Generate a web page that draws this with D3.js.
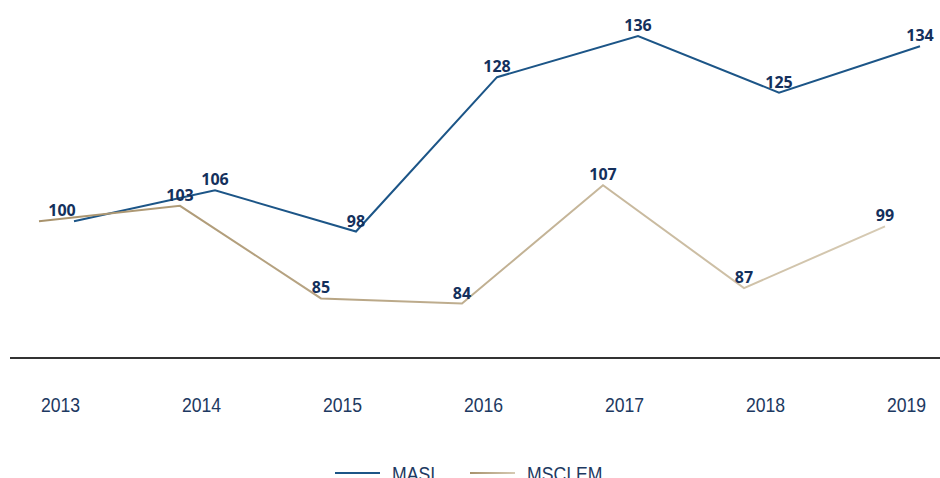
<!DOCTYPE html>
<html>
<head>
<meta charset="utf-8">
<script src="https://cdn.jsdelivr.net/npm/d3@7"></script>
<style>
  body { margin: 0; background: #fff; }
  svg { display: block; }
  .year, .legend-text { font-family: "Liberation Sans", Arial, sans-serif; font-size: 21px; fill: #1d3961; }
  .val { font-family: "Noto Sans", sans-serif; font-weight: 700; font-size: 16px; fill: #14305c; }
</style>
</head>
<body>
<div id="chart"></div>
<script>
let years = ['2013', '2014', '2015', '2016', '2017', '2018', '2019'];
let masi = [100, 106, 98, 128, 136, 125, 134];
let msciEm = [100, 103, 85, 84, 107, 87, 99];
let seriesNames = ['MASI', 'MSCI EM'];

let width = 940,
    height = 478,
    axisY = 358,
    narrow = 0.84;   // the original type is a condensed face

let masiColor = '#1c5587';

let svg = d3.select('#chart')
  .append('svg')
    .attr('width', width)
    .attr('height', height);

let defs = svg.append('defs');
let grad = defs.append('linearGradient')
    .attr('id', 'msci-grad')
    .attr('gradientUnits', 'userSpaceOnUse')
    .attr('x1', 40).attr('x2', 880)
    .attr('y1', 0).attr('y2', 0);
grad.append('stop').attr('offset', '0%').attr('stop-color', '#a8926c');
grad.append('stop').attr('offset', '100%').attr('stop-color', '#d6cab3');

let legGrad = defs.append('linearGradient')
    .attr('id', 'leg-grad')
    .attr('x1', '0%').attr('x2', '100%');
legGrad.append('stop').attr('offset', '0%').attr('stop-color', '#a8926c');
legGrad.append('stop').attr('offset', '100%').attr('stop-color', '#d6cab3');

let x = d3.scalePoint()
    .domain(years)
    .range([60, 906]);

let y = d3.scaleLinear()
    .domain([74, 143])
    .range([355, 0]);

// each series sits a little off the year position in the original
let series = [
  {name: seriesNames[0], values: masi, shift: 14, stroke: masiColor},
  {name: seriesNames[1], values: msciEm, shift: -21, stroke: 'url(#msci-grad)'}
];

let line = d3.line()
    .x(d => d.x)
    .y(d => y(d.v));

series.forEach(s => {
  s.pts = s.values.map((v, i) => ({x: x(years[i]) + s.shift, v: v, i: i}));
  svg.append('path')
    .datum(s.pts)
    .attr('fill', 'none')
    .attr('stroke', s.stroke)
    .attr('stroke-width', 2)
    .attr('d', line);
});

series.forEach((s, si) => {
  svg.selectAll('text.val-' + si)
    .data(s.pts.filter(d => !(si === 1 && d.i === 0)))
    .enter().append('text')
      .attr('class', 'val val-' + si)
      .attr('text-anchor', 'middle')
      .attr('x', d => d.i === 0 ? x(years[0]) + 2 : d.x)
      .attr('y', d => y(d.v) - 5)
      .text(d => d.v);
});

// baseline
svg.append('line')
    .attr('x1', 10).attr('x2', width)
    .attr('y1', axisY).attr('y2', axisY)
    .attr('stroke', '#333')
    .attr('stroke-width', 2);

let xAxis = d3.axisBottom(x).tickSize(0).tickPadding(0);
let ax = svg.append('g')
    .attr('transform', `translate(0,${axisY})`)
    .attr('font-size', null)
    .attr('font-family', null)
    .call(xAxis);
ax.attr('font-size', null).attr('font-family', null);
ax.select('.domain').remove();
ax.selectAll('text')
    .attr('class', 'year')
    .attr('fill', null)
    .attr('dy', null)
    .attr('y', null)
    .attr('transform', `translate(0,${412 - axisY}) scale(${narrow},1)`);

// legend
let legend = [
  {name: seriesNames[0], x1: 335, stroke: masiColor},
  {name: seriesNames[1], x1: 470, stroke: 'url(#leg-grad)'}
];
let lg = svg.selectAll('g.leg')
  .data(legend)
  .enter().append('g')
    .attr('class', 'leg');
lg.append('rect')
    .attr('x', d => d.x1)
    .attr('y', 472)
    .attr('width', 45)
    .attr('height', 2)
    .attr('fill', d => d.stroke);
lg.append('text')
    .attr('class', 'legend-text')
    .attr('transform', d => `translate(${d.x1 + 57},481) scale(${narrow},1)`)
    .text(d => d.name);
</script>
</body>
</html>
